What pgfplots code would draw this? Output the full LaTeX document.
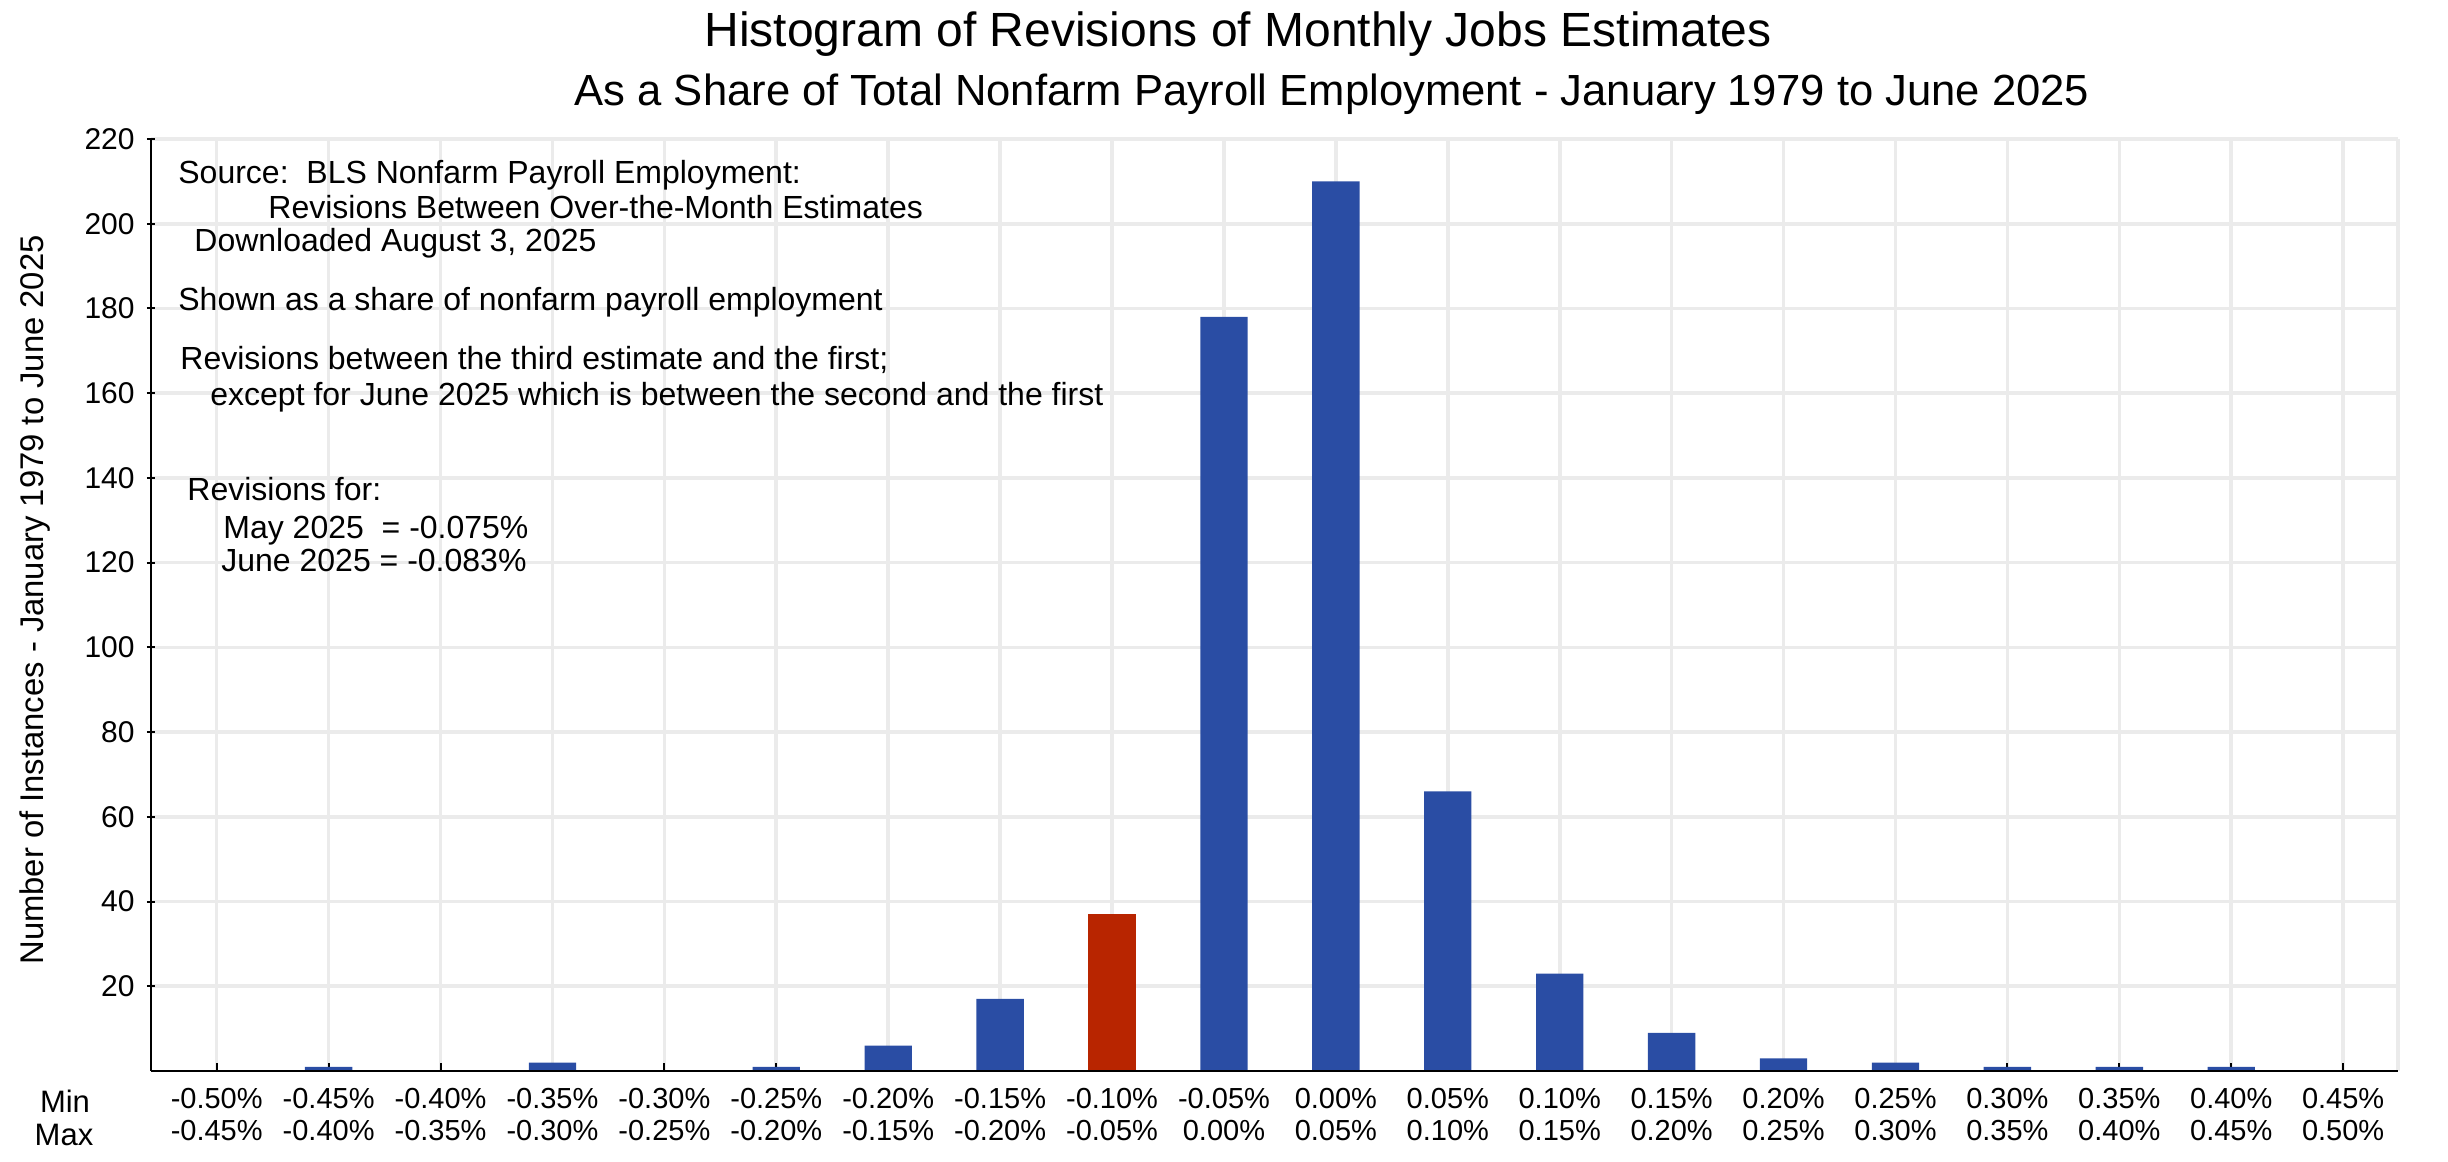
\documentclass[border=0pt]{standalone}
\usepackage{fontspec}
\setmainfont{Liberation Sans}
\usepackage{pgfplots}
\pgfplotsset{compat=1.18}
\definecolor{barblue}{RGB}{42,77,164}
\definecolor{barred}{RGB}{184,37,0}
\definecolor{gridgray}{RGB}{235,235,235}

\begin{document}
\begin{tikzpicture}
\useasboundingbox (0,0) rectangle (1224bp,581bp);

% titles
\node[anchor=base, font=\fontsize{24bp}{28bp}\selectfont] at (619bp,557.5bp) {Histogram of Revisions of Monthly Jobs Estimates};
\node[anchor=base, font=\fontsize{21.8bp}{26bp}\selectfont] at (666bp,528bp) {As a Share of Total Nonfarm Payroll Employment - January 1979 to June 2025};

\begin{axis}[
  at={(75.5bp,45.5bp)}, anchor=south west,
  width=1123.5bp, height=466bp, scale only axis,
  xmin=-0.587, xmax=19.49, ymin=0, ymax=220,
  axis x line*=bottom, axis y line*=left,
  axis line style={black, line width=1bp},
  xtick={0,...,19},
  xticklabels={{-0.50\%\\-0.45\%},{-0.45\%\\-0.40\%},{-0.40\%\\-0.35\%},{-0.35\%\\-0.30\%},
    {-0.30\%\\-0.25\%},{-0.25\%\\-0.20\%},{-0.20\%\\-0.15\%},{-0.15\%\\-0.20\%},
    {-0.10\%\\-0.05\%},{-0.05\%\\0.00\%},{0.00\%\\0.05\%},{0.05\%\\0.10\%},
    {0.10\%\\0.15\%},{0.15\%\\0.20\%},{0.20\%\\0.25\%},{0.25\%\\0.30\%},
    {0.30\%\\0.35\%},{0.35\%\\0.40\%},{0.40\%\\0.45\%},{0.45\%\\0.50\%}},
  ytick={20,40,...,220},
  xtick align=inside, ytick align=center,
  major tick length=4bp,
  tick style={black, line width=1bp},
  grid=major,
  major grid style={gridgray, line width=1.8bp},
  xticklabel style={font=\fontsize{14.5bp}{16bp}\selectfont, align=center, anchor=north, inner sep=0pt, yshift=-8.3bp},
  yticklabel style={font=\fontsize{15bp}{17bp}\selectfont, anchor=east, inner sep=0pt, xshift=-6bp},
  /pgf/number format/assume math mode=true,
  clip=false,
]
\draw[gridgray, line width=1.8bp] (axis cs:19.49,0) -- (axis cs:19.49,220);
\addplot[ybar, bar width=0.423, fill=barblue, draw=none] coordinates {
  (0,0) (1,1) (2,0) (3,2) (4,0) (5,1) (6,6) (7,17)
  (9,178) (10,210) (11,66) (12,23) (13,9) (14,3) (15,2)
  (16,1) (17,1) (18,1) (19,0)
};
\addplot[ybar, bar width=0.423, fill=barred, draw=none] coordinates {
  (8,37)
};
\draw[black, line width=1.2bp] (axis cs:-0.587,0) -- (axis cs:19.49,0);
\end{axis}

% y label
\node[rotate=90, anchor=center, font=\fontsize{16.4bp}{19bp}\selectfont] at (17.5bp,281bp) {Number of Instances - January 1979 to June 2025};

% Min / Max row labels
\node[anchor=base, font=\fontsize{15.5bp}{18bp}\selectfont] at (32.5bp,25bp) {Min};
\node[anchor=base, font=\fontsize{15.5bp}{18bp}\selectfont] at (32bp,8.5bp) {Max};

% annotations
\begin{scope}[every node/.style={anchor=base west, inner sep=0pt, font=\fontsize{16bp}{19bp}\selectfont}]
\node at (89bp,489bp) {Source:\ \ BLS Nonfarm Payroll Employment:};
\node at (134bp,471.5bp) {Revisions Between Over-the-Month Estimates};
\node at (97bp,455bp) {Downloaded August 3, 2025};
\node at (89bp,425.5bp) {Shown as a share of nonfarm payroll employment};
\node at (90bp,396bp) {Revisions between the third estimate and the first;};
\node at (105bp,378bp) {except for June 2025 which is between the second and the first};
\node at (93.5bp,330.5bp) {Revisions for:};
\node at (111.5bp,311.5bp) {May 2025\ \ = -0.075\%};
\node at (110.5bp,295bp) {June 2025 = -0.083\%};
\end{scope}
\end{tikzpicture}
\end{document}
